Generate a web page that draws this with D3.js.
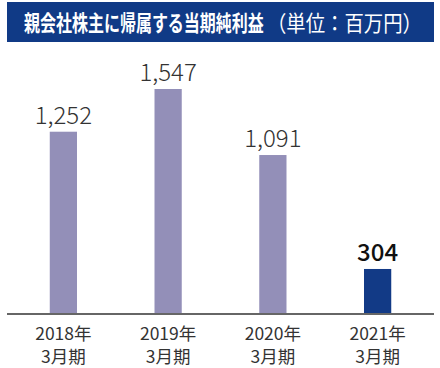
<!DOCTYPE html>
<html>
<head>
<meta charset="utf-8">
<script src="https://cdn.jsdelivr.net/npm/d3@7"></script>
<style>
  body { margin: 0; background: #fff; }
  svg { display: block; font-family: "Noto Sans CJK JP", "Noto Sans", sans-serif; }
</style>
</head>
<body>
<div id="chart"></div>
<script>
const years = ['2018年', '2019年', '2020年', '2021年'];
const periods = ['3月期', '3月期', '3月期', '3月期'];
const values = [1252, 1547, 1091, 304];
const labels = ['1,252', '1,547', '1,091', '304'];

const width = 440;
const height = 368;
const baseY = 313;

const svg = d3.select('#chart').append('svg')
  .attr('width', width)
  .attr('height', height);

// title band
svg.append('rect')
  .attr('x', 7).attr('y', 2)
  .attr('width', 427).attr('height', 40)
  .attr('fill', '#103a86');

// squeeze title text horizontally to the reference width
function titlePart(str, x0, w, weight) {
  const g = svg.append('g');
  const t = g.append('text')
    .attr('fill', '#fff')
    .attr('font-weight', weight)
    .style('font-size', '22px')
    .text(str);
  const sx = w / t.node().getComputedTextLength();
  g.attr('transform', 'translate(' + x0 + ',31) scale(' + sx + ',1)');
}
titlePart('親会社株主に帰属する当期純利益', 24, 240, 'bold');
titlePart('（単位：百万円）', 267, 155, 'normal');

const x = d3.scaleBand()
  .domain(years)
  .range([11, 430])
  .paddingInner(0.74)
  .paddingOuter(0.37);

const y = d3.scaleLinear()
  .domain([0, 1547])
  .range([baseY, 89]);

svg.append('g')
  .selectAll('rect')
  .data(values)
  .join('rect')
  .attr('x', (d, i) => x(years[i]))
  .attr('y', d => y(d))
  .attr('width', x.bandwidth())
  .attr('height', d => baseY - y(d))
  .attr('fill', (d, i) => i === 3 ? '#123a86' : '#938fb8');

svg.append('g')
  .selectAll('text')
  .data(values)
  .join('text')
  .attr('x', (d, i) => x(years[i]) + x.bandwidth() / 2)
  .attr('y', d => y(d) - 8)
  .attr('text-anchor', 'middle')
  .attr('fill', (d, i) => i === 3 ? '#111' : '#333')
  .attr('font-weight', (d, i) => i === 3 ? 500 : 300)
  .style('font-size', '24px')
  .text((d, i) => labels[i]);

// axis
svg.append('line')
  .attr('x1', 7).attr('x2', 434)
  .attr('y1', baseY + 1).attr('y2', baseY + 1)
  .attr('stroke', '#666')
  .attr('stroke-width', 2);

const cats = svg.append('g')
  .selectAll('text')
  .data(years)
  .join('text')
  .attr('x', d => x(d) + x.bandwidth() / 2)
  .attr('text-anchor', 'middle')
  .attr('fill', '#333')
  .style('font-size', '17.5px');
cats.append('tspan')
  .attr('x', d => x(d) + x.bandwidth() / 2)
  .attr('y', 340)
  .text(d => d);
cats.append('tspan')
  .attr('x', d => x(d) + x.bandwidth() / 2)
  .attr('y', 363)
  .text((d, i) => periods[i]);
</script>
</body>
</html>
